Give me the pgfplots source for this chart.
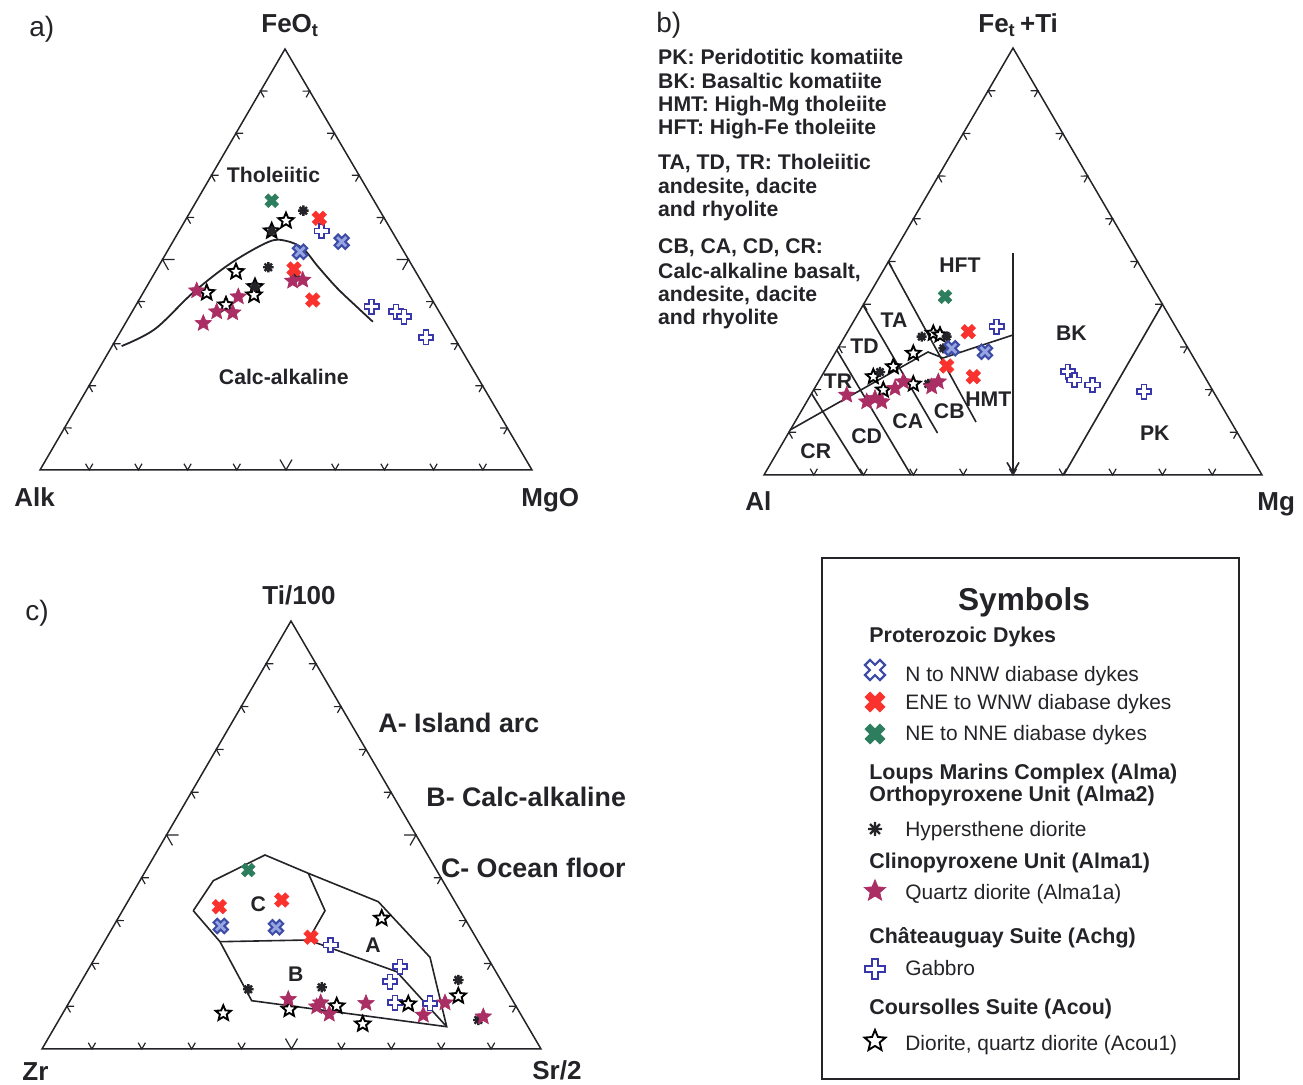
\documentclass[border=0pt]{standalone}
\usepackage{fontspec}
\setmainfont{Liberation Sans}
\usepackage{pgfplots}
\pgfplotsset{compat=1.18}
\usetikzlibrary{calc,arrows.meta}

\definecolor{cBlueX}{RGB}{60,75,165}
\definecolor{cBlueXf}{RGB}{150,165,225}
\definecolor{cRedX}{RGB}{250,50,45}
\definecolor{cGreenX}{RGB}{45,125,95}
\definecolor{cPurple}{RGB}{170,45,100}
\definecolor{cGab}{RGB}{55,55,170}
\definecolor{cInk}{RGB}{35,35,40}

\newcommand\mkpt[2]{\pgfqpoint{#1\pgfplotmarksize}{#2\pgfplotmarksize}}
\pgfdeclareplotmark{fatplus}{%
 \pgfpathmoveto{\mkpt{-0.34}{1}}%
 \pgfpathlineto{\mkpt{0.34}{1}}%
 \pgfpathlineto{\mkpt{0.34}{0.34}}%
 \pgfpathlineto{\mkpt{1}{0.34}}%
 \pgfpathlineto{\mkpt{1}{-0.34}}%
 \pgfpathlineto{\mkpt{0.34}{-0.34}}%
 \pgfpathlineto{\mkpt{0.34}{-1}}%
 \pgfpathlineto{\mkpt{-0.34}{-1}}%
 \pgfpathlineto{\mkpt{-0.34}{-0.34}}%
 \pgfpathlineto{\mkpt{-1}{-0.34}}%
 \pgfpathlineto{\mkpt{-1}{0.34}}%
 \pgfpathlineto{\mkpt{-0.34}{0.34}}%
 \pgfpathclose
 \pgfusepathqfillstroke}
\pgfdeclareplotmark{fatx}{%
 \pgfpathmoveto{\mkpt{-0.9475}{0.4667}}%
 \pgfpathlineto{\mkpt{-0.4667}{0.9475}}%
 \pgfpathlineto{\mkpt{0}{0.4808}}%
 \pgfpathlineto{\mkpt{0.4667}{0.9475}}%
 \pgfpathlineto{\mkpt{0.9475}{0.4667}}%
 \pgfpathlineto{\mkpt{0.4808}{0}}%
 \pgfpathlineto{\mkpt{0.9475}{-0.4667}}%
 \pgfpathlineto{\mkpt{0.4667}{-0.9475}}%
 \pgfpathlineto{\mkpt{0}{-0.4808}}%
 \pgfpathlineto{\mkpt{-0.4667}{-0.9475}}%
 \pgfpathlineto{\mkpt{-0.9475}{-0.4667}}%
 \pgfpathlineto{\mkpt{-0.4808}{0}}%
 \pgfpathclose
 \pgfusepathqfillstroke}
\pgfdeclareplotmark{pstar}{%
 \pgfpathmoveto{\mkpt{0}{1}}%
 \pgfpathlineto{\mkpt{0.2645}{0.364}}%
 \pgfpathlineto{\mkpt{0.951}{0.309}}%
 \pgfpathlineto{\mkpt{0.428}{-0.139}}%
 \pgfpathlineto{\mkpt{0.588}{-0.809}}%
 \pgfpathlineto{\mkpt{0}{-0.45}}%
 \pgfpathlineto{\mkpt{-0.588}{-0.809}}%
 \pgfpathlineto{\mkpt{-0.428}{-0.139}}%
 \pgfpathlineto{\mkpt{-0.951}{0.309}}%
 \pgfpathlineto{\mkpt{-0.2645}{0.364}}%
 \pgfpathclose
 \pgfusepathqfillstroke}
\pgfdeclareplotmark{ast8}{%
 \pgfpathmoveto{\mkpt{0}{1}}\pgfpathlineto{\mkpt{0}{-1}}%
 \pgfpathmoveto{\mkpt{1}{0}}\pgfpathlineto{\mkpt{-1}{0}}%
 \pgfpathmoveto{\mkpt{0.707}{0.707}}\pgfpathlineto{\mkpt{-0.707}{-0.707}}%
 \pgfpathmoveto{\mkpt{0.707}{-0.707}}\pgfpathlineto{\mkpt{-0.707}{0.707}}%
 \pgfusepathqstroke}

\pgfplotsset{
 sBlueX/.style={only marks, mark=fatx, mark size=#1, mark options={solid, draw=cBlueX, fill=cBlueXf, line width=1.0pt}},
 sBlueXL/.style={only marks, mark=fatx, mark size=#1, mark options={solid, draw=cBlueX, fill=white, line width=1.1pt}},
 sRedX/.style={only marks, mark=fatx, mark size=#1, mark options={solid, draw=cRedX, fill=cRedX, line width=0.3pt}},
 sGreenX/.style={only marks, mark=fatx, mark size=#1, mark options={solid, draw=cGreenX, fill=cGreenX, line width=0.3pt}},
 sPlus/.style={only marks, mark=fatplus, mark size=#1, mark options={solid, draw=cGab, fill=white, line width=0.9pt}},
 sOStar/.style={only marks, mark=pstar, mark size=#1, mark options={solid, draw=black, fill=white, line width=0.95pt}},
 sPStar/.style={only marks, mark=pstar, mark size=#1, mark options={solid, draw=cPurple, fill=cPurple, line width=0.3pt}},
 sAst/.style={only marks, mark=ast8, mark size=#1, mark options={solid, draw=cInk, line width=1.2pt}},
 bnd/.style={cInk, line width=0.8pt, no markers},
}
\tikzset{lbl/.style={inner sep=0pt, text=cInk}}
\newcommand\fVert{\fontsize{13}{15}\selectfont\bfseries}
\newcommand\fPan{\fontsize{14}{16}\selectfont}
\newcommand\fReg{\fontsize{10.6}{12}\selectfont\bfseries}
\newcommand\fTxt{\fontsize{10.6}{12}\selectfont\bfseries}
\newcommand\fHdr{\fontsize{10.7}{12}\selectfont\bfseries}
\newcommand\fItem{\fontsize{10.45}{12}\selectfont}
\newcommand\fBig{\fontsize{13.4}{15}\selectfont\bfseries}

\begin{document}
\begin{tikzpicture}
\begin{axis}[width=651.5pt, height=542.5pt, scale only axis,
  xmin=0, xmax=1303, ymin=0, ymax=1085, y dir=reverse,
  hide axis, clip=false]

% ---------- frames ----------
\draw[cInk, line width=0.75pt, line join=miter] (axis cs:40,470) -- (axis cs:532,470) -- (axis cs:285,49) -- cycle;
\draw[cInk, line width=0.75pt, line join=miter] (axis cs:764,475) -- (axis cs:1262,475) -- (axis cs:1013,48) -- cycle;
\draw[cInk, line width=0.75pt, line join=miter] (axis cs:42,1049) -- (axis cs:541,1049) -- (axis cs:291,621) -- cycle;
\coordinate (aL) at (axis cs:40,470);  \coordinate (aR) at (axis cs:532,470);  \coordinate (aT) at (axis cs:285,49);
\coordinate (bL) at (axis cs:764,475); \coordinate (bR) at (axis cs:1262,475); \coordinate (bT) at (axis cs:1013,48);
\coordinate (cL) at (axis cs:42,1049); \coordinate (cR) at (axis cs:541,1049); \coordinate (cT) at (axis cs:291,621);

% ---------- panel a: boundary ----------
\addplot[bnd, line width=0.9pt, smooth, tension=0.55] coordinates {(121.6,346.1) (155,329) (192.9,292.8) (230.8,263.2) (268.7,241.8) (285.7,240.8) (302.8,248.4) (317.9,266.5) (336.9,287.9) (355.9,306) (372.9,321.8)};

% ---------- panel b: fields ----------
\addplot[bnd] coordinates {(790,430) (928,352) (943,358) (1013,335)};
\addplot[bnd] coordinates {(888.3,261.7) (976,422)};
\addplot[bnd] coordinates {(862.9,305) (937.5,433)};
\addplot[bnd] coordinates {(836.7,350) (911,475)};
\addplot[bnd] coordinates {(811.4,393.3) (862.5,475)};
\addplot[bnd] coordinates {(1063.7,475) (1162.3,304.3)};
\addplot[bnd, -{Straight Barb[length=5pt,width=6pt]}] coordinates {(1013,253) (1013,474)};

% ---------- panel c: fields ----------
\addplot[bnd] coordinates {(193.3,910.7) (213.3,880.7) (265,855) (308.3,873.3) (378.3,901.7) (430,957.3) (446.7,1026.7) (251.7,1000.7) (220,941.7) (193.3,910.7)};
\addplot[bnd] coordinates {(308.3,873.3) (325,910.7) (308.3,940)};
\addplot[bnd] coordinates {(220,941.7) (308.3,940) (396.7,971.7) (446.7,1026.7)};

% ---------- data panel a ----------
\addplot[sPlus=3.6pt] coordinates {(321.7,231) (371.7,306.7) (396,311.7) (404,316.7) (426,337.3)};
\addplot[sOStar=4.0pt] coordinates {(286,220.7) (271.7,231) (236,271.7) (255,286.7) (254,295) (206.7,292.7) (226,305)};
\addplot[sAst=2.6pt] coordinates {(303.3,210.7) (271.7,231) (268.3,267.3) (295,276.7) (255,286.7)};
\addplot[sPStar=4.3pt] coordinates {(292.7,281) (302.7,280) (196.7,290.7) (238.3,296.7) (216.7,311.7) (232.7,312.7) (203.3,323.3)};
\addplot[sBlueX=3.8pt] coordinates {(341.7,241.7) (300,251.7)};
\addplot[sRedX=3.8pt] coordinates {(319.3,218.3) (294,269) (312.7,300)};
\addplot[sGreenX=3.6pt] coordinates {(271.7,200.7)};

% ---------- data panel b ----------
\addplot[sPlus=3.6pt] coordinates {(996.7,326.7) (1067.9,371.7) (1074.3,380) (1092.5,385) (1144,391.7)};
\addplot[sOStar=3.8pt] coordinates {(933.3,333.3) (940,335) (913.3,353.3) (893.3,366.7) (873.3,376.7) (913.3,384) (883.3,390)};
\addplot[sAst=2.5pt] coordinates {(921.7,336.7) (946.7,336.7) (943.3,348.3) (928.3,384) (880,372)};
\addplot[sPStar=4.3pt] coordinates {(903.3,381.7) (895,388.3) (938.3,381.7) (931.7,386.7) (846.7,395) (866.7,401.7) (875,398.3) (881.7,401.7)};
\addplot[sBlueX=3.8pt] coordinates {(951.7,348.3) (985,351.7)};
\addplot[sRedX=3.8pt] coordinates {(968.3,331.7) (946.7,366) (973.3,376.7)};
\addplot[sGreenX=3.6pt] coordinates {(945,296.7)};

% ---------- data panel c ----------
\addplot[sPlus=3.6pt] coordinates {(330.7,945) (400,966.7) (390,981.7) (395,1002.7) (430,1003.3)};
\addplot[sOStar=4.0pt] coordinates {(381.7,918.3) (408.3,1004) (458.3,996) (289.3,1009.3) (336.7,1006) (362.7,1024) (223.3,1013.3)};
\addplot[sAst=2.6pt] coordinates {(458.3,980) (478.3,1020) (248.3,989.3) (321.7,987.3)};
\addplot[sPStar=4.3pt] coordinates {(445,1002.7) (423.3,1015) (483.3,1016.7) (288.3,999.3) (320.7,1002.7) (316.7,1006.7) (329.3,1014) (366,1003.3)};
\addplot[sBlueX=3.8pt] coordinates {(220.7,926) (276,927.3)};
\addplot[sRedX=3.8pt] coordinates {(219.3,906.7) (281.7,900) (311,937.3)};
\addplot[sGreenX=3.6pt] coordinates {(248.3,870)};

% ---------- legend marks ----------
\addplot[sBlueXL=5.3pt] coordinates {(875,670)};
\addplot[sRedX=5.3pt] coordinates {(875,702)};
\addplot[sGreenX=5.3pt] coordinates {(875,734)};
\addplot[sAst=3.5pt] coordinates {(875,829)};
\addplot[sPStar=5.7pt] coordinates {(875,891)};
\addplot[sPlus=4.9pt] coordinates {(875,969)};
\addplot[sOStar=5.5pt] coordinates {(875,1041)};

% ---------- text panel a ----------
\node[lbl, anchor=base west, font=\fPan] at (axis cs:29,37) {a)};
\node[lbl, anchor=base west, font=\fVert] at (axis cs:261,33) {FeO\textsubscript{t}};
\node[lbl, anchor=base west, font=\fVert] at (axis cs:14,507) {Alk};
\node[lbl, anchor=base west, font=\fVert] at (axis cs:521,507) {MgO};
\node[lbl, anchor=base, font=\fReg] at (axis cs:273.5,182.6) {Tholeiitic};
\node[lbl, anchor=base, font=\fReg] at (axis cs:283.8,384.9) {Calc-alkaline};

% ---------- text panel b ----------
\node[lbl, anchor=base west, font=\fPan] at (axis cs:656,33) {b)};
\node[lbl, anchor=base west, font=\fVert] at (axis cs:978,32.5) {Fe\textsubscript{t}\,+Ti};
\node[lbl, anchor=base west, font=\fVert] at (axis cs:745,511) {Al};
\node[lbl, anchor=base west, font=\fVert] at (axis cs:1257,511) {Mg};
\node[lbl, anchor=base west, font=\fTxt] at (axis cs:657.8,65) {PK: Peridotitic komatiite};
\node[lbl, anchor=base west, font=\fTxt] at (axis cs:657.8,88.3) {BK: Basaltic komatiite};
\node[lbl, anchor=base west, font=\fTxt] at (axis cs:657.8,111.7) {HMT: High-Mg tholeiite};
\node[lbl, anchor=base west, font=\fTxt] at (axis cs:657.8,135) {HFT: High-Fe tholeiite};
\node[lbl, anchor=base west, font=\fTxt] at (axis cs:657.8,170) {TA, TD, TR: Tholeiitic};
\node[lbl, anchor=base west, font=\fTxt] at (axis cs:657.8,193.3) {andesite, dacite};
\node[lbl, anchor=base west, font=\fTxt] at (axis cs:657.8,216.7) {and rhyolite};
\node[lbl, anchor=base west, font=\fTxt] at (axis cs:657.8,253.3) {CB, CA, CD, CR:};
\node[lbl, anchor=base west, font=\fTxt] at (axis cs:657.8,278.3) {Calc-alkaline basalt,};
\node[lbl, anchor=base west, font=\fTxt] at (axis cs:657.8,301.7) {andesite, dacite};
\node[lbl, anchor=base west, font=\fTxt] at (axis cs:657.8,325) {and rhyolite};
\node[lbl, font=\fReg] at (axis cs:960,265) {HFT};
\node[lbl, font=\fReg] at (axis cs:894,320) {TA};
\node[lbl, font=\fReg] at (axis cs:864.6,346.7) {TD};
\node[lbl, font=\fReg] at (axis cs:838,381.7) {TR};
\node[lbl, font=\fReg] at (axis cs:815.8,451.7) {CR};
\node[lbl, font=\fReg] at (axis cs:866.7,436.7) {CD};
\node[lbl, font=\fReg] at (axis cs:907.8,421.7) {CA};
\node[lbl, font=\fReg] at (axis cs:949.3,411.7) {CB};
\node[lbl, font=\fReg] at (axis cs:988.3,399.3) {HMT};
\node[lbl, font=\fReg] at (axis cs:1071.4,333.3) {BK};
\node[lbl, font=\fReg] at (axis cs:1154.8,433.3) {PK};

% ---------- text panel c ----------
\node[lbl, anchor=base west, font=\fPan] at (axis cs:25,621) {c)};
\node[lbl, anchor=base west, font=\fVert] at (axis cs:262,604.4) {Ti/100};
\node[lbl, anchor=base west, font=\fVert] at (axis cs:22,1080.5) {Zr};
\node[lbl, anchor=base west, font=\fVert] at (axis cs:532,1079.5) {Sr/2};
\node[lbl, anchor=base west, font=\fBig] at (axis cs:378,732.4) {A- Island arc};
\node[lbl, anchor=base west, font=\fBig] at (axis cs:426,806.5) {B- Calc-alkaline};
\node[lbl, anchor=base west, font=\fBig] at (axis cs:440.6,877.2) {C- Ocean floor};
\node[lbl, font=\fReg] at (axis cs:258.2,904.5) {C};
\node[lbl, font=\fReg] at (axis cs:373,945) {A};
\node[lbl, font=\fReg] at (axis cs:295.9,974.5) {B};

% ---------- legend ----------
\draw[cInk, line width=0.6pt] (axis cs:822,558) rectangle (axis cs:1239,1079);
\node[lbl, anchor=base, font=\fontsize{15.8}{18}\selectfont\bfseries] at (axis cs:1024,611) {Symbols};
\node[lbl, anchor=base west, font=\fHdr] at (axis cs:869,643) {Proterozoic Dykes};
\node[lbl, anchor=base west, font=\fItem] at (axis cs:905,681.8) {N to NNW diabase dykes};
\node[lbl, anchor=base west, font=\fItem] at (axis cs:905,709.2) {ENE to WNW diabase dykes};
\node[lbl, anchor=base west, font=\fItem] at (axis cs:905,740.8) {NE to NNE diabase dykes};
\node[lbl, anchor=base west, font=\fHdr] at (axis cs:869,780) {Loups Marins Complex (Alma)};
\node[lbl, anchor=base west, font=\fHdr] at (axis cs:869,801.7) {Orthopyroxene Unit (Alma2)};
\node[lbl, anchor=base west, font=\fItem] at (axis cs:905,836.6) {Hypersthene diorite};
\node[lbl, anchor=base west, font=\fHdr] at (axis cs:869,868.5) {Clinopyroxene Unit (Alma1)};
\node[lbl, anchor=base west, font=\fItem] at (axis cs:905,899.3) {Quartz diorite (Alma1a)};
\node[lbl, anchor=base west, font=\fHdr] at (axis cs:869,943.2) {Châteauguay Suite (Achg)};
\node[lbl, anchor=base west, font=\fItem] at (axis cs:905,975.7) {Gabbro};
\node[lbl, anchor=base west, font=\fHdr] at (axis cs:869,1015) {Coursolles Suite (Acou)};
\node[lbl, anchor=base west, font=\fItem] at (axis cs:905,1050) {Diorite, quartz diorite (Acou1)};
\end{axis}

% ---------- ternary tick chevrons ----------
\foreach \A/\B/\mid in {aL/aR/1, aR/aT/1, aT/aL/1, bL/bR/0, bR/bT/0, bT/bL/0, cL/cR/1, cR/cT/1, cT/cL/1} {
  \foreach \k in {1,...,9} {
    \pgfmathsetmacro{\len}{3.6+2.4*\mid*(\k==5)}
    \coordinate (P) at ($(\A)!\k/10!(\B)$);
    \draw[cInk, line width=0.6pt] ($(P)!\len pt!60:(\B)$) -- (P) -- ($(P)!\len pt!120:(\B)$);
  }
}
\pgfresetboundingbox
\path (current axis.south west) rectangle (current axis.north east);
\end{tikzpicture}
\end{document}
